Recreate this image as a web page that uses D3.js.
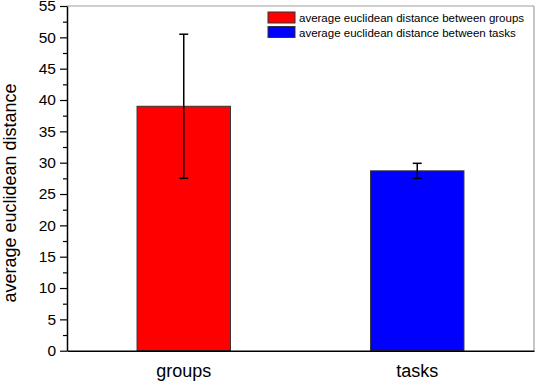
<!DOCTYPE html>
<html>
<head>
<meta charset="utf-8">
<script src="https://cdn.jsdelivr.net/npm/d3@7"></script>
<style>
  body { margin: 0; background: #fff; }
  text { font-family: Arial, "Liberation Sans", sans-serif; }
</style>
</head>
<body>
<div id="chart"></div>
<script>
// data
const categories = ["groups", "tasks"];
const means = [39.0, 28.7];
const errors = [11.5, 1.2];
const colors = ["#ff0000", "#0000ff"];
const legendLabels = ["average euclidean distance between groups", "average euclidean distance between tasks"];
const yTicks = [0, 5, 10, 15, 20, 25, 30, 35, 40, 45, 50, 55];

const params = {
    width: 536, height: 381,
    margin: {top: 6, right: 2, bottom: 30.3, left: 67}
};
const w = params.width - params.margin.left - params.margin.right;
const h = params.height - params.margin.top - params.margin.bottom;

let svg = d3.select("#chart")
    .append("svg")
    .attr("width", params.width)
    .attr("height", params.height);

let x = d3.scaleBand().domain(categories).range([0, w]).paddingInner(0.6).paddingOuter(0.3);
let y = d3.scaleLinear().domain([0, 55]).range([h, 0]);

let g = svg.append("g")
    .attr("transform", `translate(${params.margin.left}, ${params.margin.top})`);

// top and right frame, grey
g.append("line").attr("x1", 0).attr("x2", w).attr("y1", 0).attr("y2", 0)
    .attr("stroke", "#a0a0a0").attr("stroke-width", 1.2);
g.append("line").attr("x1", w).attr("x2", w).attr("y1", 0).attr("y2", h)
    .attr("stroke", "#a0a0a0").attr("stroke-width", 1.2);

// bars
g.selectAll(".bar")
    .data(means)
    .enter().append("rect")
    .attr("class", "bar")
    .attr("x", (d, i) => x(categories[i]))
    .attr("y", d => y(d))
    .attr("width", x.bandwidth())
    .attr("height", d => h - y(d))
    .attr("fill", (d, i) => colors[i])
    .attr("stroke", "#333")
    .attr("stroke-width", 1);

// error bars
let eb = g.selectAll(".err")
    .data(means)
    .enter().append("g")
    .attr("class", "err")
    .attr("stroke", "#000")
    .attr("stroke-width", 1.5);
eb.append("line")
    .attr("x1", (d, i) => x(categories[i]) + x.bandwidth() / 2)
    .attr("x2", (d, i) => x(categories[i]) + x.bandwidth() / 2)
    .attr("y1", (d, i) => y(d + errors[i]))
    .attr("y2", (d, i) => y(d - errors[i]));
eb.append("line")
    .attr("x1", (d, i) => x(categories[i]) + x.bandwidth() / 2 - 4.5)
    .attr("x2", (d, i) => x(categories[i]) + x.bandwidth() / 2 + 4.5)
    .attr("y1", (d, i) => y(d + errors[i]))
    .attr("y2", (d, i) => y(d + errors[i]));
eb.append("line")
    .attr("x1", (d, i) => x(categories[i]) + x.bandwidth() / 2 - 4.5)
    .attr("x2", (d, i) => x(categories[i]) + x.bandwidth() / 2 + 4.5)
    .attr("y1", (d, i) => y(d - errors[i]))
    .attr("y2", (d, i) => y(d - errors[i]));

// y axis, major + minor ticks
let yAxis = g.append("g")
    .call(d3.axisLeft(y).tickValues(yTicks).tickSize(7).tickPadding(4).tickSizeOuter(0));
yAxis.selectAll("text").attr("font-size", "15.5px").attr("fill", "#000").attr("font-family", "Arial, 'Liberation Sans', sans-serif");
yAxis.select(".domain").attr("stroke-width", 1.5);
yAxis.selectAll(".tick line").attr("stroke-width", 1.2);
g.append("g")
    .call(d3.axisLeft(y).tickValues(yTicks.slice(0, -1).map(d => d + 2.5)).tickSize(4).tickFormat(""))
    .call(s => s.select(".domain").remove())
    .selectAll(".tick line").attr("stroke-width", 1.2);

// x axis
let xAxis = g.append("g")
    .attr("transform", `translate(0,${h})`)
    .call(d3.axisBottom(x).tickSize(0).tickPadding(14).tickSizeOuter(0));
xAxis.selectAll("text").attr("font-size", "18px").attr("fill", "#000").attr("font-family", "Arial, 'Liberation Sans', sans-serif");
xAxis.select(".domain").attr("stroke-width", 1.5);

// y title
svg.append("text")
    .attr("transform", "translate(16, 193) rotate(-90)")
    .attr("text-anchor", "middle")
    .attr("font-size", "18px")
    .text("average euclidean distance");

// legend
let legend = svg.append("g").attr("transform", "translate(268, 12)");
legendLabels.forEach(function (lbl, i) {
    legend.append("rect")
        .attr("x", 0).attr("y", i * 14.5)
        .attr("width", 27).attr("height", 11)
        .attr("fill", colors[i]).attr("stroke", "#333").attr("stroke-width", 1);
    legend.append("text")
        .attr("x", 31).attr("y", i * 14.5 + 10)
        .attr("font-size", "11.5px")
        .text(lbl);
});
</script>
</body>
</html>
